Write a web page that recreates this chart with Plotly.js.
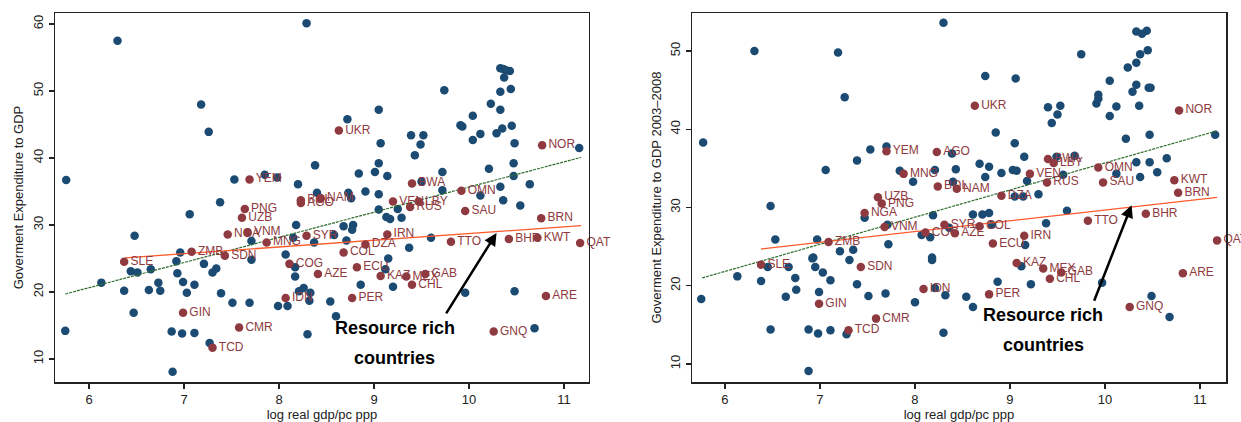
<!DOCTYPE html>
<html><head><meta charset="utf-8">
<script src="https://cdn.plot.ly/plotly-3.0.1.min.js"></script>
<style>html,body{margin:0;padding:0;background:#fff;}#chart{width:1241px;height:422px;}</style>
</head><body><div id="chart"></div>
<script>
// ---------- Left panel: Government expenditure to GDP ----------
const leftOtherX = [5.76,6.30,7.18,7.26,8.29,7.53,7.85,7.98,8.20,8.38,7.38,7.06,8.72,9.05,9.07,9.39,9.52,9.49,9.43,8.84,9.01,9.14,9.05,7.71,8.18,8.37,8.40,8.73,8.76,8.91,9.05,8.68,8.78,8.77,8.71,9.05,9.13,9.17,9.29,9.25,9.50,9.60,9.37,8.17,8.17,8.07,9.15,8.86,9.20,8.26,8.21,8.33,7.39,8.58,9.12,10.36,10.54,9.96,10.48,8.54,8.60,8.30,10.69,9.74,10.33,10.36,10.39,10.43,10.37,10.33,10.44,10.23,10.33,10.04,9.91,9.93,10.12,10.04,10.29,10.35,10.45,10.48,11.16,9.72,10.21,10.47,10.47,10.64,10.33,10.12,9.72,5.75,6.13,6.37,6.48,6.44,6.51,6.47,6.65,6.63,6.73,6.75,6.92,6.96,6.93,6.99,7.03,7.11,7.21,7.30,7.34,7.51,7.69,7.71,6.87,6.98,7.11,7.27,6.88,7.99,8.09,8.15,8.32];
const leftOtherY = [36.7,57.5,48.0,43.9,60.1,36.8,37.5,37.1,36.1,38.9,33.4,31.6,45.8,47.2,42.2,43.4,43.4,42.0,40.4,37.7,37.9,37.3,39.2,27.6,30.0,27.4,34.8,34.8,34.0,35.0,34.6,29.8,30.0,29.3,27.7,32.3,31.2,30.9,31.1,32.4,36.5,28.1,26.6,23.7,22.3,25.6,25.0,21.1,20.8,20.6,20.1,19.9,19.8,28.5,23.4,33.7,32.9,19.9,20.1,18.6,16.4,13.7,14.6,50.1,53.4,53.3,53.1,53.0,52.0,49.9,50.3,48.1,47.2,46.3,44.9,44.7,43.6,42.7,43.7,44.4,44.8,42.2,41.5,37.9,38.4,39.2,37.3,36.1,35.7,34.4,35.2,14.2,21.4,20.2,28.4,23.1,22.9,16.9,23.4,20.3,21.4,20.2,24.6,25.9,22.8,21.5,19.9,21.1,24.2,22.9,23.5,18.4,18.4,24.8,14.1,13.8,13.9,12.4,8.1,17.9,17.9,28.1,18.7];

const leftResLabels = ["YEM","PNG","UZB","BOL","AGO","NAM","UKR","NGA","VNM","MNG","SYR","VEN","BWA","LBY","RUS","IRN","DZA","COL","ECU","AZE","COG","KAZ","MEX","GAB","CHL","IDN","PER","SAU","BRN","TTO","BHR","KWT","QAT","ARE","GNQ","OMN","NOR","SLE","ZMB","SDN","GIN","TCD","CMR"];
const leftResX = [7.69,7.64,7.61,8.23,8.23,8.44,8.63,7.46,7.67,7.87,8.29,9.20,9.40,9.47,9.38,9.14,8.91,8.68,8.82,8.41,8.11,9.07,9.34,9.54,9.40,8.07,8.77,9.96,10.76,9.81,10.42,10.72,11.17,10.81,10.26,9.92,10.77,6.37,7.08,7.43,6.99,7.30,7.58];
const leftResY = [36.8,32.4,31.1,33.7,33.3,34.0,44.1,28.6,28.9,27.4,28.4,33.5,36.2,33.5,32.7,28.6,27.1,25.9,23.7,22.7,24.2,22.4,22.3,22.7,21.1,19.1,19.1,32.1,31.0,27.5,27.9,28.1,27.3,19.4,14.1,35.1,41.9,24.5,26.0,25.4,16.9,11.7,14.7];

const leftFitAllX = [5.75, 11.18], leftFitAllY = [19.7, 40.1];
const leftFitResX = [6.38, 11.18], leftFitResY = [25.1, 29.9];

// ---------- Right panel: Government expenditure to GDP 2003-2008 ----------
const rightOtherX = [5.77,6.31,7.19,7.26,6.48,7.06,7.39,7.53,7.70,7.84,7.98,8.21,7.47,8.85,9.05,8.43,8.68,8.78,8.74,8.91,9.03,9.07,8.40,8.19,8.61,8.71,8.78,8.07,8.16,8.36,6.97,7.72,7.21,7.35,7.31,6.93,6.95,7.03,7.11,8.18,8.18,7.39,8.87,6.99,7.51,7.69,8.21,8.32,8.54,5.75,6.13,6.38,6.45,6.53,6.67,6.64,6.74,6.75,6.48,6.92,7.71,6.88,6.98,7.11,7.28,6.88,8.00,8.81,9.16,9.38,9.60,9.12,9.22,9.97,8.61,8.30,10.49,10.68,8.30,8.74,9.06,9.75,10.33,10.39,10.44,10.37,10.45,10.24,10.33,10.05,10.33,10.29,10.46,10.48,9.93,9.91,9.93,10.12,10.05,10.36,9.40,9.53,9.50,9.44,9.15,9.18,9.30,9.05,9.14,9.49,9.68,10.12,10.22,10.47,10.33,10.47,10.65,10.37,10.55,11.16,8.39,9.56];
const rightOtherY = [38.3,50.0,49.8,44.1,30.2,34.8,36.0,37.4,37.8,34.7,33.3,34.8,28.7,39.6,38.2,34.9,35.6,35.2,33.9,34.4,34.8,34.7,33.3,29.0,29.1,29.1,29.3,26.5,26.2,27.4,25.9,25.3,24.4,24.6,23.3,23.6,22.4,21.7,20.7,23.6,23.3,20.2,20.5,19.2,18.7,19.0,19.7,18.8,18.6,18.3,21.2,20.6,22.4,25.9,22.4,18.6,21.0,19.5,14.4,23.5,27.8,14.4,13.9,14.3,13.8,9.1,17.9,27.8,25.2,28.0,29.6,22.5,20.2,20.4,17.3,14.0,18.7,16.0,53.6,46.8,46.5,49.6,52.5,52.2,52.6,49.6,50.1,47.9,48.5,46.2,45.7,44.8,45.3,45.3,44.4,43.3,43.9,42.9,41.7,43.0,42.8,43.0,41.9,40.8,36.5,33.4,31.7,31.4,31.4,36.5,36.6,34.3,38.8,39.3,35.8,35.8,36.3,33.9,34.5,39.3,36.9,34.2];

const rightResLabels = ["YEM","MNG","AGO","BOL","NAM","UZB","PNG","NGA","UKR","DZA","VNM","SYR","COL","AZE","COG","ECU","ZMB","SDN","KAZ","IDN","PER","SLE","GIN","TCD","CMR","IRN","TTO","BHR","QAT","ARE","MEX","GAB","CHL","GNQ","BWA","LBY","VEN","RUS","OMN","SAU","NOR","KWT","BRN"];
const rightResX = [7.70,7.88,8.23,8.24,8.44,7.61,7.65,7.47,8.63,8.91,7.68,8.31,8.68,8.42,8.11,8.82,7.09,7.43,9.07,8.09,8.78,6.38,6.99,7.30,7.59,9.15,9.82,10.43,11.18,10.82,9.35,9.54,9.42,10.26,9.40,9.46,9.21,9.39,9.93,9.98,10.78,10.73,10.77];
const rightResY = [37.2,34.3,37.1,32.7,32.4,31.3,30.5,29.3,43.0,31.5,27.5,27.8,27.6,26.7,26.8,25.4,25.6,22.4,22.9,19.6,18.9,22.7,17.7,14.3,15.8,26.4,28.3,29.2,25.8,21.6,22.2,21.7,20.9,17.3,36.2,35.7,34.3,33.2,35.1,33.2,42.4,33.5,31.9];

const rightFitAllX = [5.76, 11.18], rightFitAllY = [21.0, 39.8];
const rightFitResX = [6.38, 11.18], rightFitResY = [24.7, 31.3];

// ---------- styling ----------
const BLUE = '#1b4a72', RED = '#8e3a40', GREEN = '#2f6e2f', ORANGE = '#ff5a2a';
const FONT = 'Liberation Sans, Arial, sans-serif';

function panel(ox, oy, rl, rx, ry, fax, fay, frx, fry, xa, ya) {
  return [
    {type:'scatter', mode:'markers', x:ox, y:oy, xaxis:xa, yaxis:ya,
     marker:{color:BLUE, size:8.5, line:{width:0}}, hoverinfo:'skip'},
    {type:'scatter', mode:'lines', x:fax, y:fay, xaxis:xa, yaxis:ya,
     line:{color:GREEN, width:1.2, dash:'3px,1px'}, hoverinfo:'skip'},
    {type:'scatter', mode:'lines', x:frx, y:fry, xaxis:xa, yaxis:ya,
     line:{color:ORANGE, width:1.3}, hoverinfo:'skip'},
    {type:'scatter', mode:'markers+text', x:rx, y:ry, text:rl, xaxis:xa, yaxis:ya,
     textposition:'middle right', cliponaxis:false,
     textfont:{family:FONT, size:12, color:RED},
     marker:{color:RED, size:8.5, line:{width:0}}, hoverinfo:'skip'}
  ];
}

const data = [].concat(
  panel(leftOtherX, leftOtherY, leftResLabels, leftResX, leftResY, leftFitAllX, leftFitAllY, leftFitResX, leftFitResY, 'x', 'y'),
  panel(rightOtherX, rightOtherY, rightResLabels, rightResX, rightResY, rightFitAllX, rightFitAllY, rightFitResX, rightFitResY, 'x2', 'y2')
);

const axisCommon = {showline:true, mirror:true, linecolor:'#222', linewidth:1.5,
  ticks:'outside', ticklen:5, tickwidth:1.3, tickcolor:'#222', showgrid:false, zeroline:false,
  tickfont:{family:FONT, size:13, color:'#222'}, fixedrange:true};

const layout = {
  width:1241, height:422, showlegend:false,
  paper_bgcolor:'#fff', plot_bgcolor:'#fff',
  margin:{l:55, r:15, t:13, b:40},
  font:{family:FONT, color:'#222'},
  xaxis: Object.assign({}, axisCommon, {domain:[0,0.456], range:[5.642,11.263], dtick:1, tick0:6,
    title:{text:'log real gdp/pc ppp', font:{family:FONT, size:13, color:'#222'}, standoff:4}}),
  yaxis: Object.assign({}, axisCommon, {domain:[0,1], range:[6.57,61.64], dtick:10, tick0:10, tickangle:-90,
    title:{text:'Goverment Expenditure to GDP', font:{family:FONT, size:13, color:'#222'}, standoff:4}}),
  xaxis2: Object.assign({}, axisCommon, {domain:[0.544,1], anchor:'y2', range:[5.653,11.274], dtick:1, tick0:6,
    title:{text:'log real gdp/pc ppp', font:{family:FONT, size:13, color:'#222'}, standoff:4}}),
  yaxis2: Object.assign({}, axisCommon, {domain:[0,1], anchor:'x2', range:[7.70,54.86], dtick:10, tick0:10, tickangle:-90,
    title:{text:'Goverment Expenditure to GDP 2003\u20132008', font:{family:FONT, size:13, color:'#222'}, standoff:4}}),
  annotations: [
    {xref:'x', yref:'y', x:10.29, y:28.8, axref:'x', ayref:'y', ax:9.75, ay:16.6, text:'', showarrow:true,
     arrowhead:2, arrowsize:1, arrowwidth:2.5, arrowcolor:'#000'},
    {xref:'x', yref:'y', x:9.22, y:14.6, text:'<b>Resource rich</b>', showarrow:false,
     font:{family:FONT, size:18, color:'#000'}},
    {xref:'x', yref:'y', x:9.22, y:10.15, text:'<b>countries</b>', showarrow:false,
     font:{family:FONT, size:18, color:'#000'}},
    {xref:'x2', yref:'y2', x:10.28, y:30.3, axref:'x2', ayref:'y2', ax:9.88, ay:17.9, text:'', showarrow:true,
     arrowhead:2, arrowsize:1, arrowwidth:2.5, arrowcolor:'#000'},
    {xref:'x2', yref:'y2', x:9.35, y:16.3, text:'<b>Resource rich</b>', showarrow:false,
     font:{family:FONT, size:18, color:'#000'}},
    {xref:'x2', yref:'y2', x:9.35, y:12.4, text:'<b>countries</b>', showarrow:false,
     font:{family:FONT, size:18, color:'#000'}}
  ]
};

Plotly.newPlot('chart', data, layout, {staticPlot:true, displayModeBar:false});
</script>
</body></html>
